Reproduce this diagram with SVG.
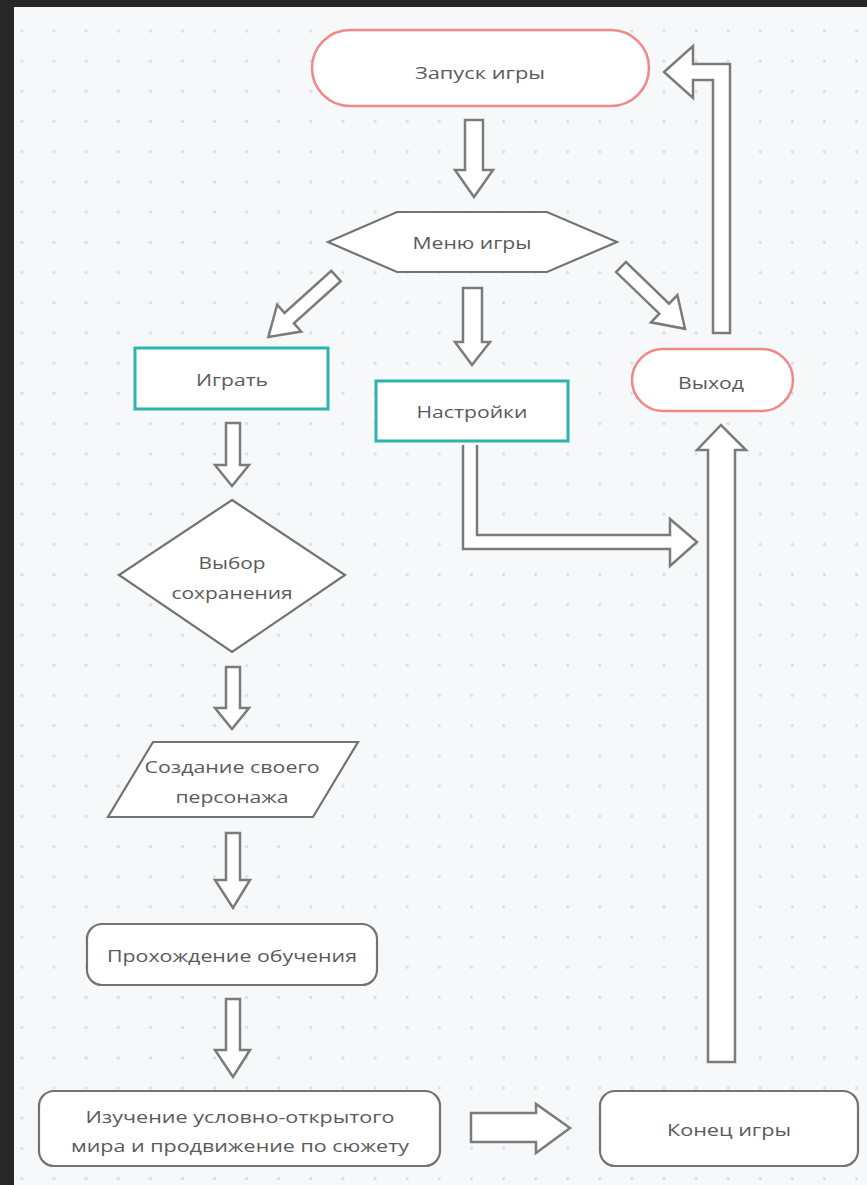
<svg xmlns="http://www.w3.org/2000/svg" width="867" height="1185" viewBox="0 0 867 1185">
  <defs>
    <pattern id="dots" patternUnits="userSpaceOnUse" x="5.95" y="15.9" width="32.1" height="30.2">
      <circle cx="16.05" cy="15.1" r="1.6" fill="#dcdee3"/>
    </pattern>
    <style>
      .arr { fill: #ffffff; stroke: #7b7b7b; stroke-width: 2.5; stroke-linejoin: miter; }
      .box { fill: #ffffff; stroke: #737373; stroke-width: 2.2; }
      .red { fill: #ffffff; stroke: #ef8a8a; stroke-width: 2.6; }
      .teal { fill: #ffffff; stroke: #2fb3ae; stroke-width: 3; }
      .t { font-family: "Open Sans", "Liberation Sans", sans-serif; font-size: 16px; fill: #5a5a5a; text-anchor: middle; }
    </style>
  </defs>
  <rect x="0" y="0" width="867" height="1185" fill="#272727"/>
  <rect x="14" y="7" width="853" height="1178" fill="#f7f8fa"/>
  <rect x="14" y="7" width="853" height="1178" fill="url(#dots)"/>

  <g id="connectors">
    <!-- Start -> Menu -->
    <path class="arr" d="M465,120 H483 V170 H493 L474,197 L455,170 H465 Z"/>
    <!-- Menu -> Play (diagonal) -->
    <path class="arr" transform="translate(336,276) rotate(138)" d="M0,-7 H63 V-18 L91,0 L63,18 V7 H0 Z"/>
    <!-- Menu -> Settings -->
    <path class="arr" d="M463,288 H482 V342 H490 L472,365 L455,342 H463 Z"/>
    <!-- Menu -> Exit (diagonal) -->
    <path class="arr" transform="translate(621,267) rotate(44)" d="M0,-7 H60 V-19 L89,0 L60,19 V7 H0 Z"/>
    <!-- Exit -> Start (return) -->
    <path class="arr" d="M713,333 V80 H693 V98 L664,72 L693,46 V64 H730 V333 Z"/>
    <!-- Settings -> right (elbow) -->
    <path class="arr" d="M463,445 V549 H670 V566 L697,542 L670,519 V535 H477 V445"/>
    <!-- End -> Exit (up) -->
    <path class="arr" d="M708,1062 V450 H697 L721,425 L746,450 H735 V1062 Z"/>
    <!-- Play -> Choice -->
    <path class="arr" d="M226,423 H240 V465 H249 L232,486 L215,465 H226 Z"/>
    <!-- Choice -> Create -->
    <path class="arr" d="M226,667 H240 V708 H249 L232,729 L215,708 H226 Z"/>
    <!-- Create -> Tutorial -->
    <path class="arr" d="M226,833 H240 V880 H250 L233,908 L215,880 H226 Z"/>
    <!-- Tutorial -> Explore -->
    <path class="arr" d="M226,999 H240 V1050 H250 L233,1077 L215,1050 H226 Z"/>
    <!-- Explore -> End -->
    <path class="arr" d="M471,1113 H536 V1104 L570,1128 L536,1153 V1142 H471 Z"/>
  </g>

  <g id="start">
    <rect class="red" x="312" y="30" width="337" height="76" rx="38"/>
    <text class="t" x="480" y="79" textLength="130" lengthAdjust="spacingAndGlyphs">Запуск игры</text>
  </g>
  <g id="menu">
    <polygon class="box" points="328,242 397,212 547,212 617,242 547,272 397,272"/>
    <text class="t" x="472" y="249" textLength="119" lengthAdjust="spacingAndGlyphs">Меню игры</text>
  </g>
  <g id="play">
    <rect class="teal" x="135" y="348" width="193" height="61"/>
    <text class="t" x="232" y="386" textLength="72" lengthAdjust="spacingAndGlyphs">Играть</text>
  </g>
  <g id="settings">
    <rect class="teal" x="376" y="381" width="192" height="60"/>
    <text class="t" x="472" y="418" textLength="111" lengthAdjust="spacingAndGlyphs">Настройки</text>
  </g>
  <g id="exit">
    <rect class="red" x="632" y="349" width="161" height="62" rx="31"/>
    <text class="t" x="711" y="389" textLength="66" lengthAdjust="spacingAndGlyphs">Выход</text>
  </g>
  <g id="choice">
    <polygon class="box" points="232,500 345,575 232,652 119,575"/>
    <text class="t" x="232" y="569" textLength="67" lengthAdjust="spacingAndGlyphs">Выбор</text>
    <text class="t" x="232" y="599" textLength="121" lengthAdjust="spacingAndGlyphs">сохранения</text>
  </g>
  <g id="create">
    <polygon class="box" points="153,742 358,742 313,817 108,817"/>
    <text class="t" x="232" y="773" textLength="175" lengthAdjust="spacingAndGlyphs">Создание своего</text>
    <text class="t" x="232" y="803" textLength="113" lengthAdjust="spacingAndGlyphs">персонажа</text>
  </g>
  <g id="tutorial">
    <rect class="box" x="87" y="924" width="290" height="61" rx="15"/>
    <text class="t" x="232" y="962" textLength="250" lengthAdjust="spacingAndGlyphs">Прохождение обучения</text>
  </g>
  <g id="explore">
    <rect class="box" x="39" y="1091" width="401" height="75" rx="15"/>
    <text class="t" x="240" y="1123" textLength="309" lengthAdjust="spacingAndGlyphs">Изучение условно-открытого</text>
    <text class="t" x="240" y="1152" textLength="338" lengthAdjust="spacingAndGlyphs">мира и продвижение по сюжету</text>
  </g>
  <g id="end">
    <rect class="box" x="600" y="1091" width="258" height="75" rx="15"/>
    <text class="t" x="729" y="1136" textLength="124" lengthAdjust="spacingAndGlyphs">Конец игры</text>
  </g>
</svg>
